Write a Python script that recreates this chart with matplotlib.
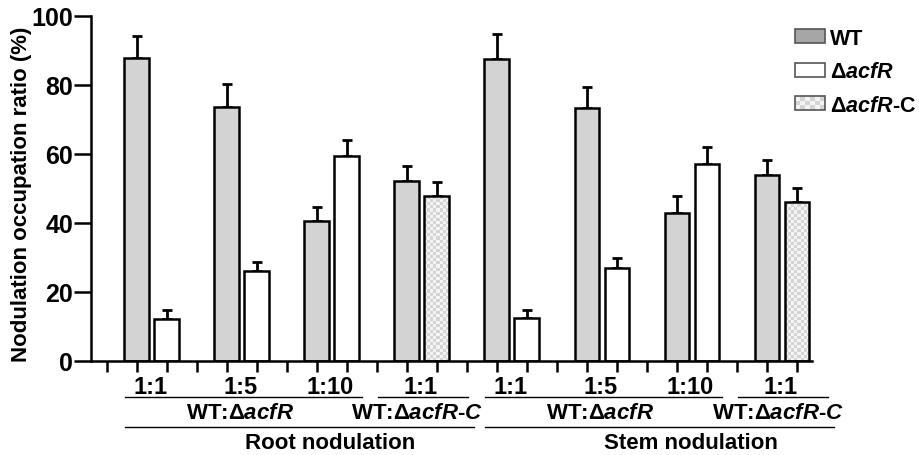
import numpy as np
import matplotlib.pyplot as plt
from matplotlib.patches import Rectangle, Patch
from matplotlib.legend_handler import HandlerPatch
from matplotlib.colors import ListedColormap

plt.rcParams['font.family'] = ['Liberation Sans', 'DejaVu Sans']
plt.rcParams['font.weight'] = 'bold'
plt.rcParams['mathtext.fontset'] = 'custom'
plt.rcParams['mathtext.it'] = 'Liberation Sans:italic:bold'
plt.rcParams['mathtext.rm'] = 'Liberation Sans:bold'

# data
ratios = ["1:1", "1:5", "1:10", "1:1"]
root_wt = [87.8, 73.6, 40.6, 52.1]
root_wt_err = [6.4, 6.5, 4.0, 4.4]
root_mut = [12.1, 26.1, 59.2, 47.6]
root_mut_err = [2.5, 2.4, 4.8, 4.1]
stem_wt = [87.5, 73.2, 42.7, 53.7]
stem_wt_err = [7.2, 6.1, 5.0, 4.4]
stem_mut = [12.3, 26.9, 57.1, 46.1]
stem_mut_err = [2.3, 2.9, 4.9, 4.0]

BAR_GRAY = "#d3d3d3"
CHECK_A = "#f4f4f4"
CHECK_B = "#d4d4d4"
width = 0.83


def checker_fill(ax, bar, nx=8, cell_h=0.9):
    x0, y0 = bar.get_x(), bar.get_y()
    w, h = bar.get_width(), bar.get_height()
    ny = max(1, int(round(h / cell_h)))
    img = (np.indices((ny, nx)).sum(axis=0) % 2).astype(float)
    im = ax.imshow(img, extent=(x0, x0 + w, y0, y0 + h), origin='lower',
                   cmap=ListedColormap([CHECK_A, CHECK_B]), aspect='auto',
                   interpolation='nearest', zorder=1.5)
    im.set_clip_path(bar)


class CheckerHandler(HandlerPatch):
    def create_artists(self, legend, orig_handle, xdescent, ydescent,
                       width, height, fontsize, trans):
        arts = []
        nx, ny = 6, 3
        cw, ch = width / nx, height / ny
        for i in range(nx):
            for j in range(ny):
                c = CHECK_B if (i + j) % 2 else CHECK_A
                arts.append(Rectangle((-xdescent + i * cw, -ydescent + j * ch), cw, ch,
                                      facecolor=c, edgecolor='none', transform=trans))
        arts.append(Rectangle((-xdescent, -ydescent), width, height, facecolor='none',
                              edgecolor='#555555', lw=1.2, transform=trans))
        return arts


fig = plt.figure(figsize=(9.2, 4.56), dpi=100)
ax = fig.add_axes([0.0989, 0.2068, 0.7837, 0.7566])

err_kw = dict(ecolor='black', elinewidth=2, capsize=3.5, capthick=2)

panels = [(root_wt, root_wt_err, root_mut, root_mut_err, 0),
          (stem_wt, stem_wt_err, stem_mut, stem_mut_err, 12)]
for wt, wte, mut, mte, off in panels:
    for g in range(4):
        xw = off + 3 * g + 1
        xm = xw + 1
        ax.bar(xw, wt[g], width, color=BAR_GRAY, edgecolor='black', lw=1.8, zorder=2)
        ax.errorbar(xw, wt[g], yerr=[[0], [wte[g]]], fmt='none', zorder=1, **err_kw)
        if g < 3:
            ax.bar(xm, mut[g], width, color='white', edgecolor='black', lw=1.8, zorder=2)
        else:
            b = ax.bar(xm, mut[g], width, color='none', edgecolor='black', lw=1.8, zorder=2)
            checker_fill(ax, b[0])
        ax.errorbar(xm, mut[g], yerr=[[0], [mte[g]]], fmt='none', zorder=1, **err_kw)
        # ratio label
        ax.text(xw + 0.45, -0.075, ratios[g], transform=ax.get_xaxis_transform(),
                ha='center', va='center', fontsize=17, fontweight='bold')

ax.set_xlim(-0.53, 23.5)
ax.set_ylim(0, 100)
ax.set_xticks(np.arange(0, 24))
ax.set_xticklabels([])
ax.set_yticks([0, 20, 40, 60, 80, 100])
ax.tick_params(axis='y', length=12, width=1.8, labelsize=18, pad=1)
ax.tick_params(axis='x', length=8, width=1.8)
for lab in ax.get_yticklabels():
    lab.set_fontweight('bold')
ax.spines['top'].set_visible(False)
ax.spines['right'].set_visible(False)
ax.spines['left'].set_linewidth(1.8)
ax.spines['bottom'].set_linewidth(1.8)
ax.set_ylabel("Nodulation occupation ratio (%)", fontsize=16, fontweight='bold')
ax.yaxis.set_label_coords(-0.082, 0.485)

# group lines and labels under the axis
tr = ax.get_xaxis_transform()
def hline(x0, x1, y):
    ax.plot([x0, x1], [y, y], color='black', lw=1, transform=tr, clip_on=False)

for off, name in [(0, "Root nodulation"), (12, "Stem nodulation")]:
    hline(off + 0.6, off + 8.5, -0.105)
    hline(off + 9.05, off + 12.05, -0.105)
    hline(off + 0.6, off + 12.25, -0.192)
    ax.text(off + 4.45, -0.150, r"WT:Δ$\mathit{acfR}$", transform=tr,
            ha='center', va='center', fontsize=16)
    ax.text(off + 10.35, -0.150, r"WT:Δ$\mathit{acfR}$$\mathit{\text{-}C}$", transform=tr,
            ha='center', va='center', fontsize=16)
    ax.text(off + 7.45, -0.238, name, transform=tr, ha='center', va='center', fontsize=16)

handles = [Patch(facecolor='#a6a6a6', edgecolor='#555555', lw=1.2),
           Patch(facecolor='white', edgecolor='#555555', lw=1.2),
           Patch(facecolor='none')]
labels = ["WT", r"Δ$\mathit{acfR}$", r"Δ$\mathit{acfR}$-C"]
fig.legend(handles, labels, loc='upper left', bbox_to_anchor=(0.864, 0.937),
           frameon=False, fontsize=15.5, handlelength=1.4, handleheight=0.62,
           handletextpad=0.24, labelspacing=0.58, borderpad=0, borderaxespad=0,
           handler_map={handles[2]: CheckerHandler()})

plt.savefig("out.png", dpi=100)
plt.close()
